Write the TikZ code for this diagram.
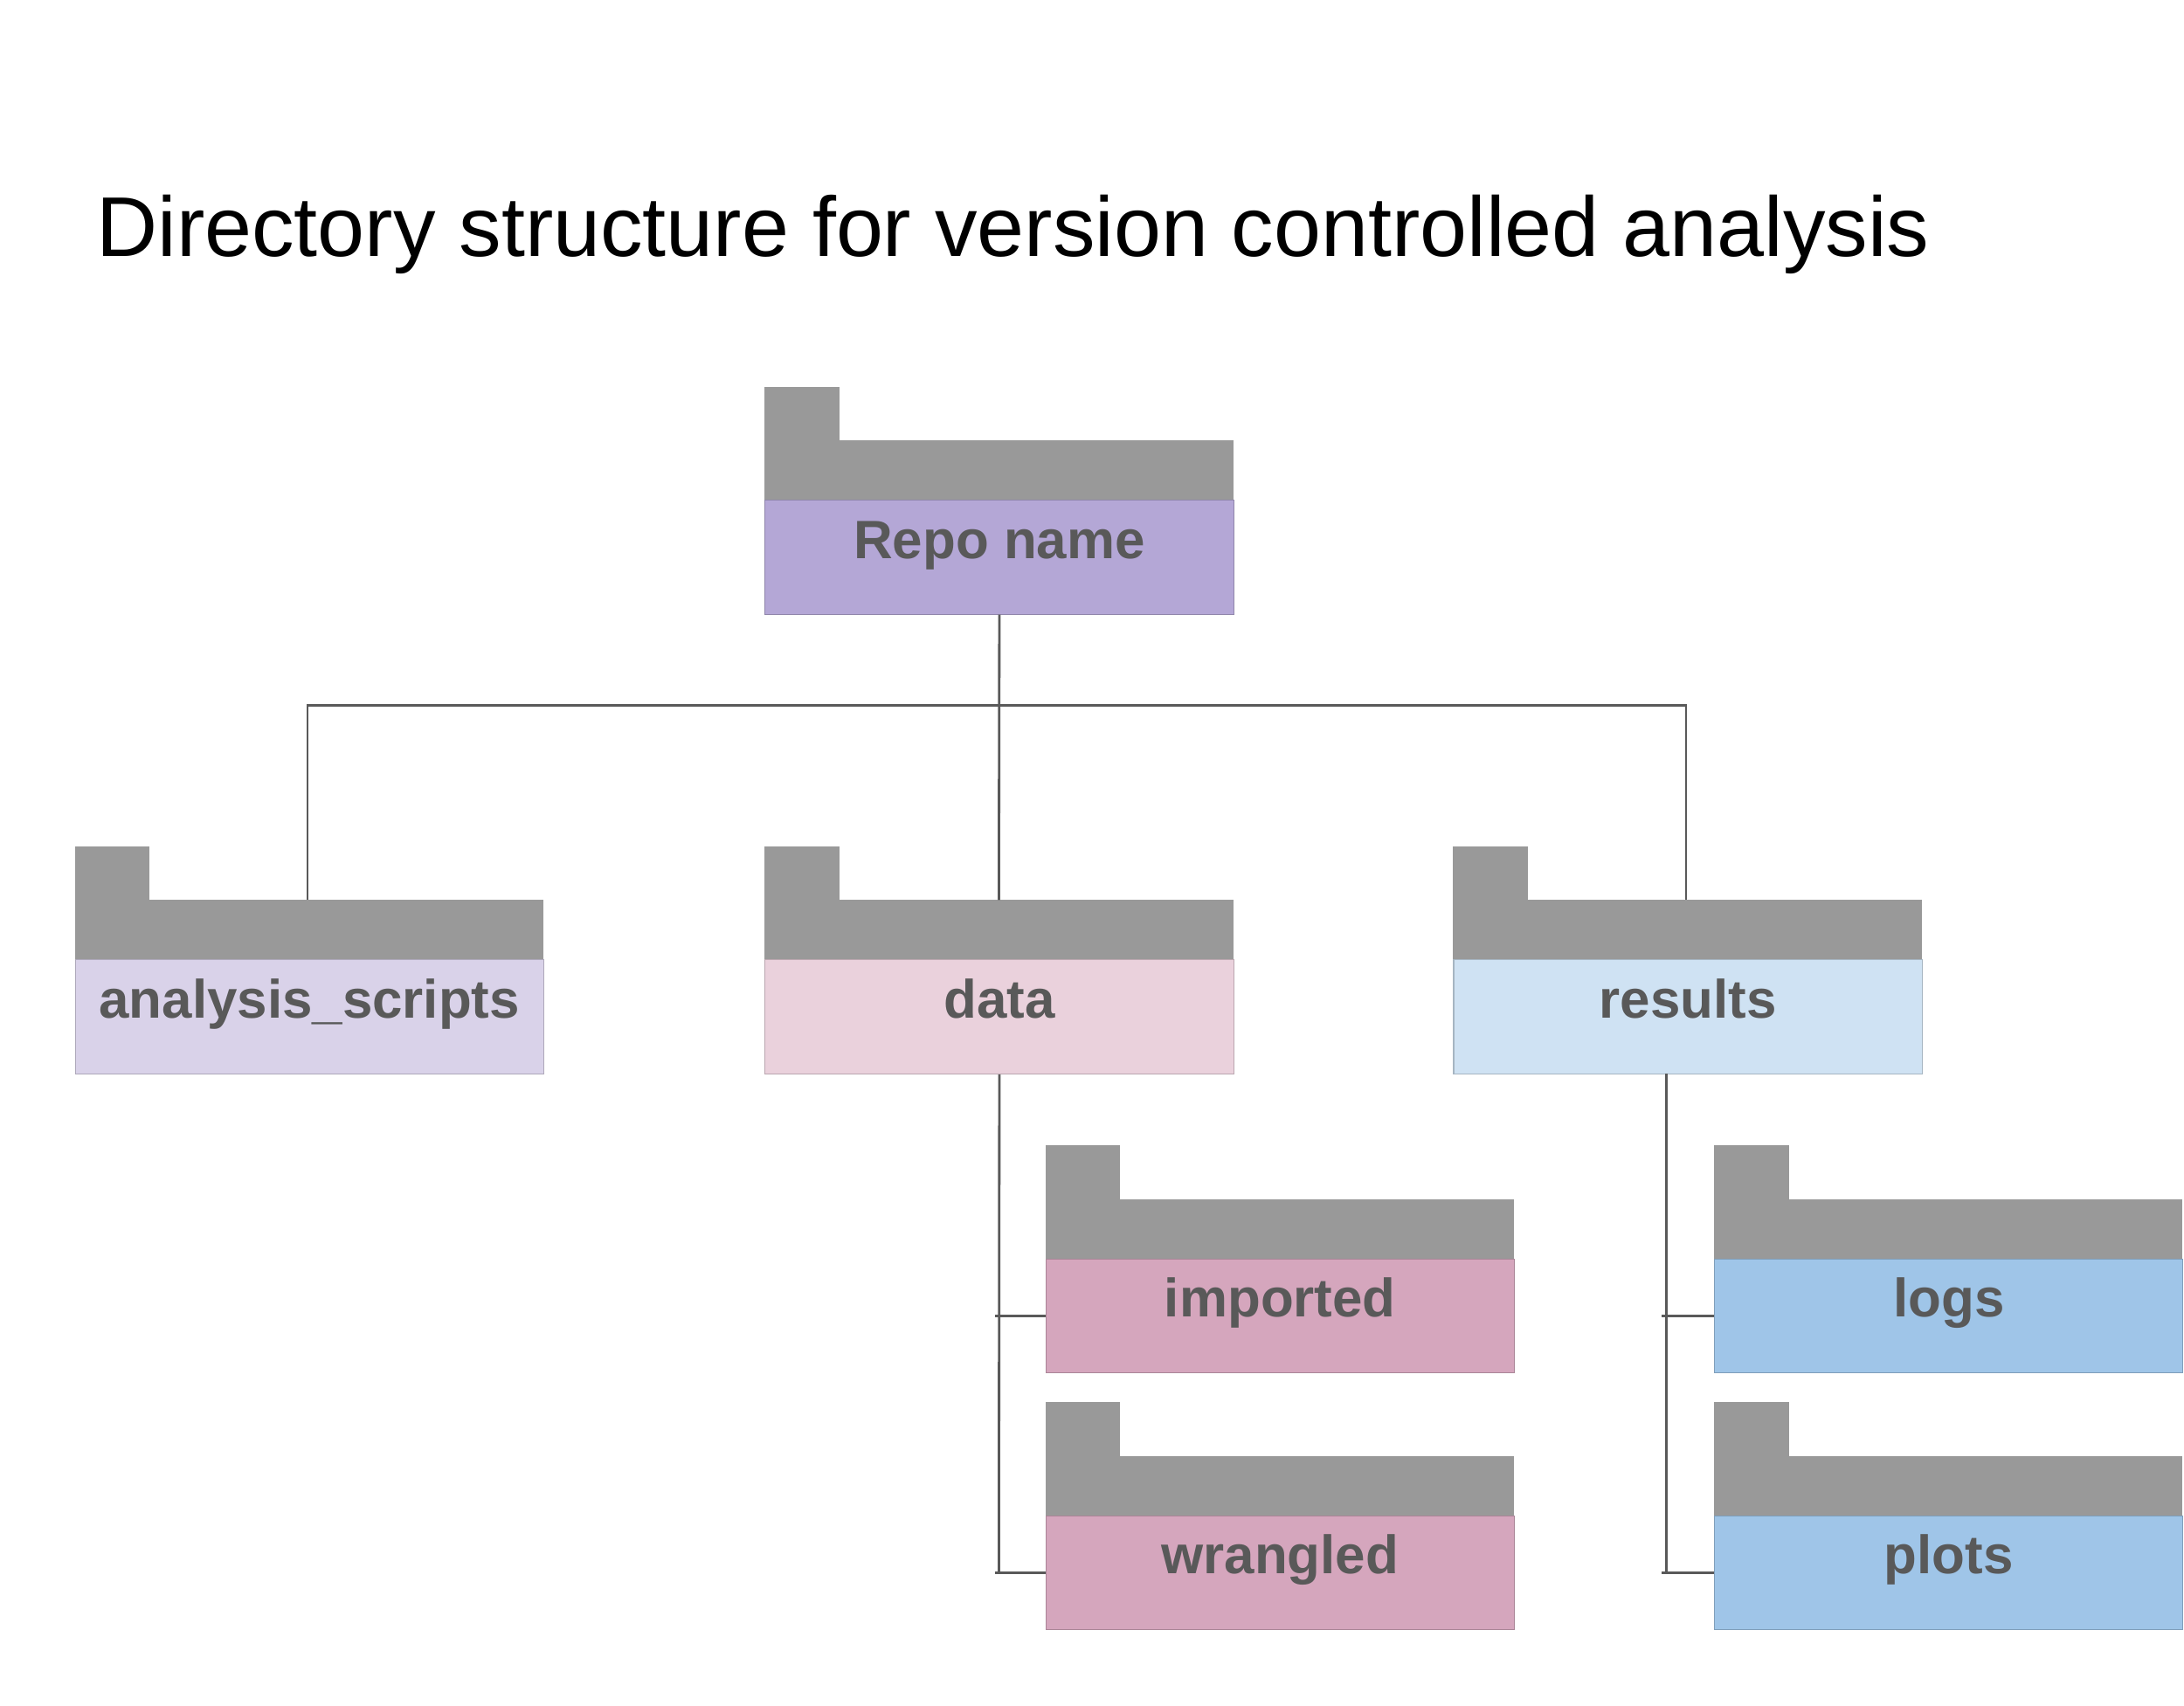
\documentclass[tikz,border=0pt]{standalone}
\usepackage{fontspec}
\setmainfont{Liberation Sans}
\usetikzlibrary{positioning}
\definecolor{tabgray}{HTML}{999999}
\definecolor{txtgray}{HTML}{595959}
\definecolor{linegray}{HTML}{595959}
\definecolor{repoc}{HTML}{B4A7D6}
\definecolor{scriptc}{HTML}{D9D2E9}
\definecolor{datac}{HTML}{EAD1DC}
\definecolor{resc}{HTML}{CFE2F3}
\definecolor{subdatac}{HTML}{D5A6BD}
\definecolor{subresc}{HTML}{9FC5E8}
\tikzset{
  label box/.style={draw=#1!80!black, line width=0.3pt, fill=#1, minimum width=332*0.01615cm,
    minimum height=81*0.01615cm, inner sep=0pt, anchor=north west,
    text height=0.75em, text depth=0.67em,
    font=\fontsize{17.6}{20}\selectfont\bfseries, text=txtgray},
  tree/.style={draw=linegray, line width=0.8pt}
}
% folder: name, x, y (top of tab), colour, text
\newcommand{\folder}[5]{%
  \fill[tabgray] (#2,#3) rectangle ++(53,38);
  \fill[tabgray] (#2,#3+38) rectangle ++(332,42);
  \coordinate (#1-top) at (#2+166,#3+38);
  \node[label box=#4] (#1) at (#2,#3+80) {#5};
}
\begin{document}
\begin{tikzpicture}[x=0.01615cm,y=-0.01615cm]
\useasboundingbox (0,0) rectangle (1548,1209);
\begin{scope}
\clip (0,0) rectangle (1548,1209);
\node[anchor=base west, inner sep=0pt, font=\fontsize{27.6}{30}\selectfont] (title) at (68,182)
  {Directory structure for version controlled analysis};

\folder{repo}{542}{274}{repoc}{Repo name}
\folder{scripts}{53}{600}{scriptc}{analysis\_scripts}
\folder{data}{542}{600}{datac}{data}
\folder{results}{1030}{600}{resc}{results}
\folder{imported}{741}{812}{subdatac}{imported}
\folder{wrangled}{741}{994}{subdatac}{wrangled}
\folder{logs}{1215}{812}{subresc}{logs}
\folder{plots}{1215}{994}{subresc}{plots}

\coordinate (split) at (repo.south |- 0,500);
\draw[tree] (repo.south) -- (data-top);
\draw[tree] (scripts-top -| 218,0) |- (split) -| (results-top -| 1195,0);

\coordinate (dend) at (708,1115);
\draw[tree] (data.south) -- (dend);
\draw[tree] (imported.west -| 705,0) -- (imported.west);
\draw[tree] (705,1115) -- (wrangled.west |- 0,1115);
\coordinate (rend) at (1181,1115);
\draw[tree] (1181,761) -- (rend);
\draw[tree] (logs.west -| 1178,0) -- (logs.west);
\draw[tree] (1178,1115) -- (plots.west |- 0,1115);
\end{scope}
\end{tikzpicture}
\end{document}
